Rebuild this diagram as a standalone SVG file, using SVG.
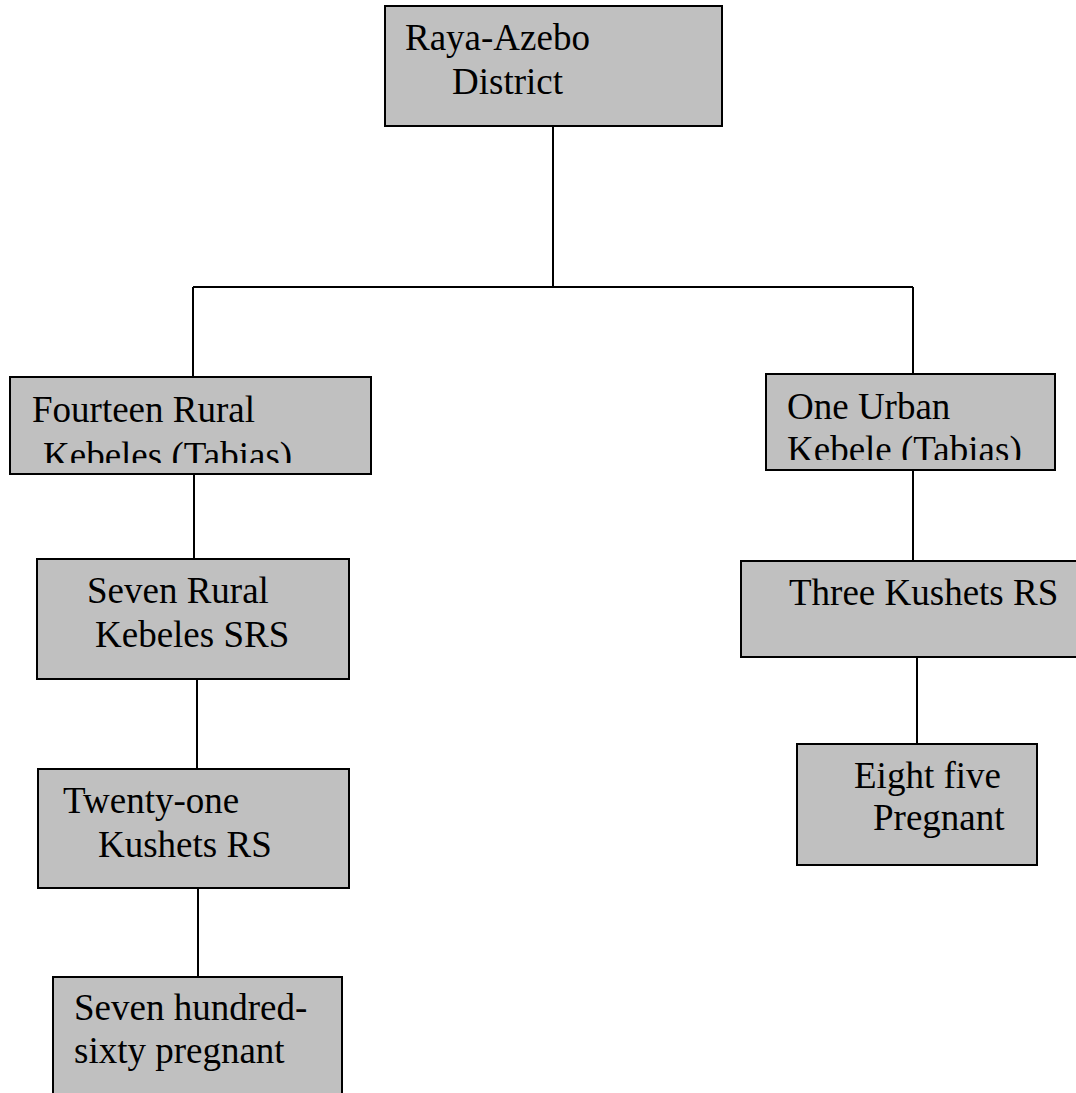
<svg xmlns="http://www.w3.org/2000/svg" width="1076" height="1093" viewBox="0 0 1076 1093">
<style>
.box{fill:#c0c0c0;stroke:#000;stroke-width:2}
.t{font-family:"Liberation Serif","Times New Roman",serif;font-size:37px;fill:#000}
.c{stroke:#000;stroke-width:2;fill:none}
</style>
<defs>
<clipPath id="clipA"><rect x="11" y="378" width="359" height="85"/></clipPath>
<clipPath id="clipB"><rect x="767" y="375" width="287" height="85"/></clipPath>
</defs>
<rect width="1076" height="1093" fill="#fff"/>
<g id="connectors">
<path class="c" d="M553 126 V287 M193 287 H913 M193 287 V377 M913 287 V374"/>
<path class="c" d="M194 474 V559 M197 679 V769 M198 888 V977"/>
<path class="c" d="M913 470 V561 M917 654 V744"/>
</g>
<g id="district">
<rect class="box" x="385" y="6" width="337" height="120"/>
<text class="t" x="405" y="50">Raya-Azebo</text>
<text class="t" x="452" y="94">District</text>
</g>
<g id="rural-kebeles">
<rect class="box" x="10" y="377" width="361" height="97"/>
<g clip-path="url(#clipA)">
<text class="t" x="32" y="422">Fourteen Rural</text>
<text class="t" x="43" y="468">Kebeles (Tabias)</text>
</g>
</g>
<g id="urban-kebele">
<rect class="box" x="766" y="374" width="289" height="96"/>
<g clip-path="url(#clipB)">
<text class="t" x="787" y="419">One Urban</text>
<text class="t" x="787" y="462">Kebele (Tabias)</text>
</g>
</g>
<g id="seven-rural">
<rect class="box" x="37" y="559" width="312" height="120"/>
<text class="t" x="87" y="603">Seven Rural</text>
<text class="t" x="95" y="647">Kebeles SRS</text>
</g>
<g id="three-kushets">
<rect class="box" x="741" y="561" width="340" height="96"/>
<text class="t" x="789" y="605">Three Kushets RS</text>
</g>
<g id="twenty-one">
<rect class="box" x="38" y="769" width="311" height="119"/>
<text class="t" x="63" y="813">Twenty-one</text>
<text class="t" x="98" y="857">Kushets RS</text>
</g>
<g id="eight-five">
<rect class="box" x="797" y="744" width="240" height="121"/>
<text class="t" x="854" y="788">Eight five</text>
<text class="t" x="873" y="830">Pregnant</text>
</g>
<g id="seven-hundred">
<rect class="box" x="53" y="977" width="289" height="130"/>
<text class="t" x="74" y="1020">Seven hundred-</text>
<text class="t" x="74" y="1063">sixty pregnant</text>
</g>
</svg>
